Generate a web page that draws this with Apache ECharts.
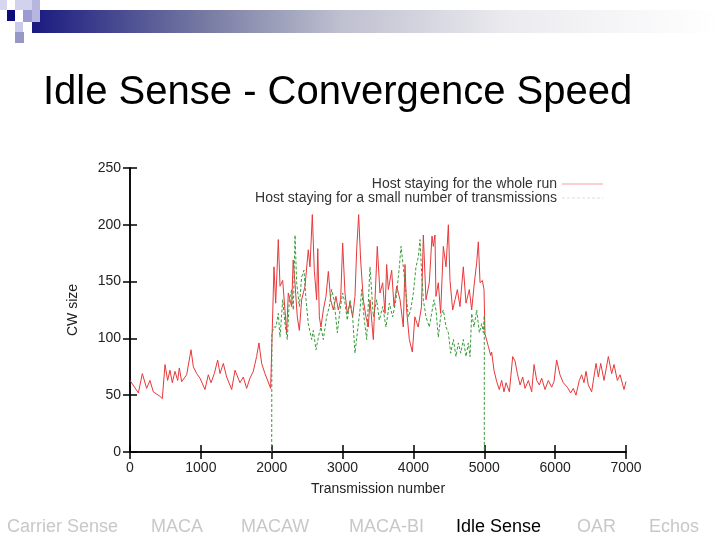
<!DOCTYPE html>
<html><head><meta charset="utf-8">
<script src="https://cdn.jsdelivr.net/npm/echarts@6/dist/echarts.min.js"></script>
<style>html,body{margin:0;padding:0;background:#fff}#c{width:720px;height:540px}</style>
</head><body><div id="c"></div>
<script>
const titleText = 'Idle Sense - Convergence Speed';
const navItems = ['Carrier Sense','MACA','MACAW','MACA-BI','Idle Sense','OAR','Echos'];
const activeNav = 'Idle Sense';
const seriesNames = ['Host staying for the whole run','Host staying for a small number of transmissions'];
const xTicks = [0,1000,2000,3000,4000,5000,6000,7000];
const yTicks = [0,50,100,150,200,250];

// Host staying for the whole run: [transmission, CW size]
const wholeRunX = [0,118,174,235,282,329,423,456,494,531,564,597,635,673,696,729,800,861,894,941,988,1058,1105,1143,1190,1237,1270,1317,1364,1435,1482,1552,1599,1646,1693,1740,1787,1820,1858,1905,1985,
2032,2056,2093,2117,2155,2187,2211,2234,2281,2303,2328,2361,2390,2422,2470,2516,2540,2573,2601,2634,2650,2672,2695,2728,2766,2799,2832,2870,2907,2940,2973,3001,3034,3067,3105,3142,3175,3199,3227,3255,3293,3330,3363,3387,3434,3490,3528,3566,3599,3622,3646,3693,3726,3764,3811,3857,3881,3904,3942,3985,4020,4067,4114,4140,4177,4224,4262,4281,4304,4318,4351,4384,4422,4460,4493,4516,4554,4587,4620,4657,4704,4742,4789,4822,4855,4893,4916,4940,4973,4996,
5010,5057,5090,5104,5137,5175,5212,5245,5278,5307,5354,5401,5434,5467,5505,5542,5575,5622,5669,5702,5740,5777,5810,5857,5904,5951,5984,6021,6068,6115,6172,6219,6256,6294,6341,6374,6407,6436,6468,6515,6577,6610,6643,6690,6751,6798,6831,6878,6916,6972,7000];
const wholeRunY = [63,52,69,56,63,53,49,47,77,63,72,61,71,63,74,62,68,90,75,69,65,55,68,61,69,81,69,78,66,55,72,61,66,56,65,71,84,96,78,69,56,
163,131,187,146,151,125,105,140,128,169,149,119,107,134,146,178,163,209,160,134,179,119,110,125,137,159,134,125,137,125,134,184,140,122,131,119,137,178,209,169,134,119,110,134,99,181,140,149,122,165,143,160,128,146,134,110,165,125,99,88,119,110,128,191,134,149,190,181,191,137,149,122,181,163,200,151,125,134,143,128,163,131,143,125,146,167,185,149,151,143,
104,93,85,88,72,62,55,63,53,61,53,84,80,69,59,66,56,63,53,77,63,59,65,55,63,57,62,81,68,61,57,52,56,50,63,68,61,71,59,53,78,66,78,63,84,69,77,63,68,55,62];

// Host staying for a small number of transmissions
const shortStayX = [2000,2002,2030,2060,2093,2117,2155,2187,2220,2249,2281,2305,2329,2352,2390,2422,2455,2484,2516,2564,2587,2625,2658,2695,2728,2775,2813,2846,2879,2926,2964,3001,3034,3067,3105,3142,3175,3208,3246,3270,3302,3340,3387,3434,3481,3518,3566,3613,3660,3707,3754,3801,3825,3857,3895,3928,3961,3999,4036,4070,4093,4116,4140,4177,4224,4257,4290,4318,4351,4384,4422,4460,4493,4526,4564,4601,4634,4667,4704,4742,4775,4799,4822,4855,4893,4930,4963,4987,5000,5000];
const shortStayY = [0,104,110,110,122,101,134,113,99,134,143,125,191,149,128,154,160,134,113,99,107,90,101,110,99,119,128,143,134,105,125,140,131,116,134,119,87,105,125,143,119,99,163,119,134,116,128,110,131,119,134,163,181,163,140,119,125,140,163,172,187,157,134,119,110,122,134,125,101,119,125,110,105,87,99,84,96,87,99,84,96,84,122,110,125,105,113,105,120,0];

const pairs = (xs, ys) => xs.map((x, i) => [x, ys[i]]);
const font = 'Liberation Sans, Arial, Helvetica, sans-serif';

const chart = echarts.init(document.getElementById('c'), null, {renderer: 'canvas'});

const navX = [7,151,241,349,456,577,649];
const graphics = [
  {type:'rect', shape:{x:32,y:10,width:688,height:23}, style:{fill:new echarts.graphic.LinearGradient(0,0,1,0,[
    {offset:0,color:'#1a1a80'},{offset:0.25,color:'#767aa2'},{offset:0.45,color:'#bfc0d0'},{offset:0.7,color:'#ececf0'},{offset:1,color:'#ffffff'}])}},
  {type:'rect', shape:{x:0,y:0,width:7,height:10}, style:{fill:'#d6d6ee'}},
  {type:'rect', shape:{x:15,y:0,width:17,height:10}, style:{fill:'#d2d2ee'}},
  {type:'rect', shape:{x:32,y:0,width:8,height:22}, style:{fill:'#b6b6de'}},
  {type:'rect', shape:{x:7,y:10,width:8,height:11}, style:{fill:'#0c0c7a'}},
  {type:'rect', shape:{x:23,y:10,width:9,height:12}, style:{fill:'#9c9cd2'}},
  {type:'rect', shape:{x:15,y:22,width:8,height:10}, style:{fill:'#cacaec'}},
  {type:'rect', shape:{x:15,y:32,width:9,height:11}, style:{fill:'#9898c8'}},
  {type:'text', left:43, top:73, style:{text:titleText, font:'40px ' + font, fill:'#000'}}
];
navItems.forEach((t, i) => {
  graphics.push({type:'text', left:navX[i], top:518, style:{text:t, font:'18px ' + font, fill: t === activeNav ? '#000' : '#c8c8c8'}});
});

const axisLine = {show:true, lineStyle:{color:'#000', width:1.5}};
const tick = {show:true, inside:true, length:7, lineStyle:{color:'#000', width:1.5}};
const lbl = {color:'#222', fontSize:14, fontFamily:font, formatter: v => String(v)};
const solidIcon = 'path://M0,0H41V1.2H0Z';
const dashIcon = 'path://M0,0H3V1.2H0Z M5,0H8V1.2H5Z M10,0H13V1.2H10Z M15,0H18V1.2H15Z M20,0H23V1.2H20Z M25,0H28V1.2H25Z M30,0H33V1.2H30Z M35,0H38V1.2H35Z M40,0H41V1.2H40Z';

chart.setOption({
  animation:false,
  backgroundColor:'#fff',
  graphic: graphics,
  grid:{left:130, right:94, top:168, bottom:88, show:false},
  legend:[
    {data:[seriesNames[0]], right:112, top:172, orient:'horizontal', align:'right', icon:solidIcon, itemWidth:41, itemHeight:1.2,
     itemStyle:{color:'#f2a2a2'}, textStyle:{color:'#333', fontSize:14, fontFamily:font}},
    {data:[seriesNames[1]], right:112, top:186, orient:'horizontal', align:'right', icon:dashIcon, itemWidth:41, itemHeight:1.2,
     itemStyle:{color:'#dedede'}, textStyle:{color:'#333', fontSize:14, fontFamily:font}}
  ],
  xAxis:[
    {type:'value', min:xTicks[0], max:xTicks[xTicks.length-1], interval:1000, position:'bottom',
     axisLine, axisTick:tick, splitLine:{show:false}, axisLabel:Object.assign({margin:9}, lbl),
     name:'Transmission number', nameLocation:'middle', nameGap:30, nameTextStyle:{color:'#222', fontSize:14, fontFamily:font}},
    {type:'value', min:xTicks[0], max:xTicks[xTicks.length-1], interval:1000, position:'top',
     axisLine, axisTick:tick, splitLine:{show:false}, axisLabel:{show:false}}
  ],
  yAxis:[
    {type:'value', min:yTicks[0], max:yTicks[yTicks.length-1], interval:50, position:'left',
     axisLine, axisTick:tick, splitLine:{show:false}, axisLabel:Object.assign({margin:9}, lbl),
     name:'CW size', nameLocation:'middle', nameGap:50, nameTextStyle:{color:'#222', fontSize:14, fontFamily:font}},
    {type:'value', min:yTicks[0], max:yTicks[yTicks.length-1], interval:50, position:'right',
     axisLine, axisTick:tick, splitLine:{show:false}, axisLabel:{show:false}}
  ],
  series:[
    {name:seriesNames[0], type:'line', symbol:'none', data:pairs(wholeRunX, wholeRunY),
     lineStyle:{color:'#e8383a', width:1}, itemStyle:{color:'#e8383a'}, z:2},
    {name:seriesNames[1], type:'line', symbol:'none', data:pairs(shortStayX, shortStayY),
     lineStyle:{color:'#3a9a3a', width:1, type:[3,2]}, itemStyle:{color:'#3a9a3a'}, z:3}
  ]
});
</script></body></html>
